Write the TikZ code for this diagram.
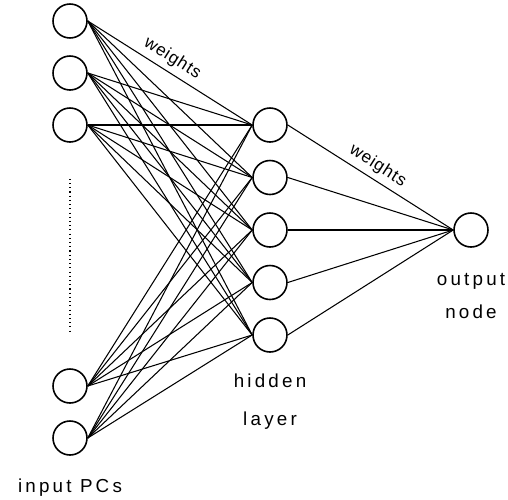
\documentclass[tikz,border=0pt]{standalone}
\usepackage{fontspec}
\setsansfont{Liberation Sans}[LetterSpace=17]
\newfontfamily\wfont{Liberation Sans}[LetterSpace=5]

\begin{document}
\begin{tikzpicture}[
		neuron/.style={circle, draw, line width=0.9pt, minimum size=0.68cm, inner sep=0pt},
		link/.style={line width=0.6pt},
		lbl/.style={font=\sffamily\fontsize{10.7}{12}\selectfont, inner sep=0pt},
		wlbl/.style={font=\wfont\fontsize{9.8}{11}\selectfont, inner sep=0pt},
	]
		\useasboundingbox (0,0) rectangle (10.16,-9.98);
		
		% 1. input PCs (two groups, gap in between)
		\foreach \i/\y in {1/-0.42, 2/-1.46, 3/-2.5, 4/-7.72, 5/-8.76}
			\node[neuron] (i\i) at (1.4,\y) {};
		
		% 2. hidden layer
		\foreach \j in {1,...,5}
			\node[neuron] (h\j) at (5.4,{-2.5-1.05*(\j-1)}) {};
		
		% 3. output node
		\node[neuron] (o) at (9.42,-4.6) {};
		
		% dots for the omitted inputs
		\draw[link, dash pattern=on 0.6pt off 1.8pt, shorten <=0.72cm, shorten >=0.72cm] (i3.south) -- (i4.north);
		
		% 4. all links input -> hidden
		\foreach \i in {1,...,5}
			\foreach \j in {1,...,5}
				\draw[link] (i\i.east) -- (h\j.west);
		% hidden -> output
		\foreach \j in {1,...,5}
			\draw[link] (h\j.east) -- (o.west);
		
		% weights labels, along the top links
		\path (i1.east) -- node[wlbl, sloped, above=3pt, pos=0.47] (w1) {weights} (h1.west);
		\path (h1.east) -- node[wlbl, sloped, above=3pt] (w2) {weights} (o.west);
		
		% 5. layer names
		\node[lbl, anchor=base] (inlbl) at ([yshift=-1.08cm]i5.center) {input PCs};
		\node[lbl, anchor=base] (hidlbl) at ([yshift=-1.04cm]h5.center) {hidden};
		\node[lbl, anchor=base] (laylbl) at ([yshift=-0.76cm]hidlbl.base) {layer};
		\node[lbl, anchor=base] (outlbl) at ([yshift=-1.1cm]o.center) {output};
		\node[lbl, anchor=base] (nodelbl) at ([yshift=-0.66cm]outlbl.base) {node};
	\end{tikzpicture}
\end{document}
